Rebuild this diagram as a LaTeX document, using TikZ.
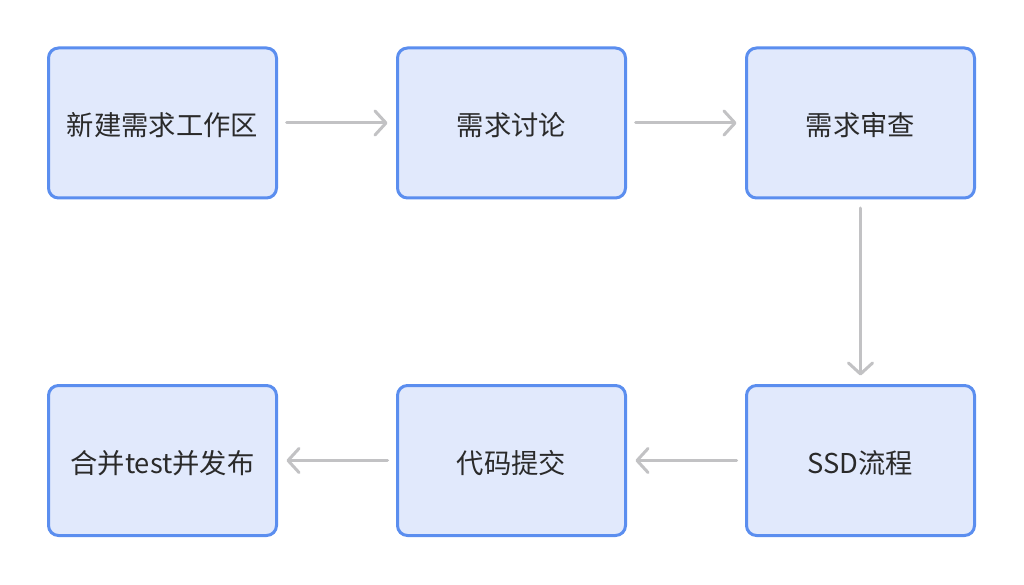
\documentclass[tikz,border=0pt]{standalone}
\usepackage{fontspec}
\setmainfont{Noto Sans CJK SC}
\usetikzlibrary{arrows.meta}
\definecolor{boxfill}{HTML}{E1E9FC}
\definecolor{boxline}{HTML}{5B8EEF}
\definecolor{arr}{HTML}{C2C2C4}
\definecolor{txt}{HTML}{2A2A2A}
\tikzset{
  stepbox/.style={draw=boxline, fill=boxfill, line width=3pt, rounded corners=10pt,
    minimum width=228pt, minimum height=150pt, inner sep=0pt, outer sep=0pt,
    text height=26pt, text depth=0pt,
    text=txt, font=\fontsize{27.3}{32}\selectfont},
  flow/.style={draw=arr, line width=3pt, line cap=round,
    -{Straight Barb[length=11pt,width=24pt,round,line width=3pt]},
    shorten <=10pt, shorten >=10pt}
}
\begin{document}
\begin{tikzpicture}[x=1pt,y=-1pt]
\useasboundingbox (0,0) rectangle (1024,585);
\node[stepbox] (a) at (162.5,123) {新建需求工作区};
\node[stepbox] (b) at (511.5,123) {需求讨论};
\node[stepbox] (c) at (860.5,123) {需求审查};
\node[stepbox] (d) at (860.5,460.5) {SSD流程};
\node[stepbox] (e) at (511.5,460.5) {代码提交};
\node[stepbox] (f) at (162.5,460.5) {合并test并发布};
\draw[flow] (a) -- (b);
\draw[flow] (b) -- (c);
\draw[flow] (c) -- (d);
\draw[flow] (d) -- (e);
\draw[flow] (e) -- (f);
\end{tikzpicture}
\end{document}
